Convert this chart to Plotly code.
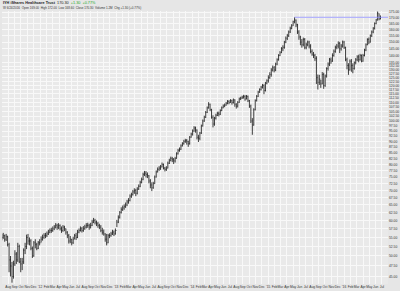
import numpy as np
import pandas as pd
import plotly.graph_objects as go

# ---- weekly data (Jul 2011 .. Jun 2016) ----
close_2011 = [55.0, 55.5, 54.5, 55.2, 53.0, 49.0, 47.5, 45.0, 48.0, 50.5, 49.0, 52.5, 48.5, 48.0,
              48.5, 51.5, 52.5, 55.0, 54.0, 54.0, 52.0, 50.0, 53.5, 53.0, 52.0, 53.5, 53.5]
high_2011 = [56.0, 56.3, 55.8, 56.0, 55.5, 53.5, 50.0, 48.5, 48.8, 51.5, 51.0, 53.5, 53.0, 49.5,
             49.5, 52.0, 53.5, 55.8, 56.0, 55.0, 54.5, 52.5, 54.0, 54.5, 53.5, 54.0, 54.5]
low_2011 = [54.2, 54.6, 53.8, 54.0, 52.5, 46.0, 45.0, 43.6, 44.5, 47.5, 48.0, 48.5, 48.2, 46.0,
            46.5, 48.0, 50.5, 51.8, 53.0, 52.8, 51.5, 49.5, 49.8, 52.0, 51.5, 51.8, 52.8]

close_2012 = [54.5, 55.0, 55.5, 55.5, 56.0, 56.5, 57.0, 57.0, 57.5, 58.0, 58.5, 58.0, 58.5,
              57.5, 57.0, 58.0, 57.5, 56.5, 55.5, 54.0, 54.5, 53.5, 54.5, 55.5, 55.0, 56.5,
              57.0, 57.5, 57.0, 57.5, 58.0, 58.5, 58.5, 58.0, 58.5, 59.5, 60.0, 59.5, 59.0,
              58.5, 58.0, 57.0, 56.5, 56.0, 54.5, 53.5, 55.5, 55.5, 56.0, 56.5, 56.0, 57.0]
high_2012 = [55.3, 55.8, 56.2, 56.3, 56.7, 57.2, 57.6, 57.8, 58.2, 58.6, 59.2, 59.0, 59.2,
             58.8, 58.2, 58.6, 58.4, 57.6, 56.8, 56.0, 55.4, 54.6, 55.2, 56.0, 56.3, 57.2,
             57.6, 58.2, 58.0, 58.3, 58.7, 59.2, 59.3, 59.0, 59.3, 60.2, 60.8, 60.5, 60.0,
             59.6, 59.0, 58.6, 57.8, 57.3, 56.2, 56.0, 56.0, 56.2, 56.6, 57.2, 57.0, 57.6]
low_2012 = [53.6, 54.1, 54.6, 54.8, 55.1, 55.7, 56.2, 56.3, 56.6, 57.1, 57.6, 57.2, 57.4,
            57.0, 56.3, 56.6, 56.8, 55.8, 54.8, 53.3, 53.4, 52.8, 53.2, 54.5, 54.3, 54.8,
            56.2, 56.7, 56.4, 56.6, 57.2, 57.6, 57.8, 57.2, 57.6, 58.3, 59.2, 58.8, 58.3,
            57.8, 57.4, 56.5, 55.8, 55.5, 53.8, 52.8, 53.4, 54.8, 55.2, 55.7, 55.4, 55.8]

close_2013 = [59.5, 61.0, 62.5, 63.5, 64.0, 64.5, 65.0, 66.0, 66.5, 68.0, 68.5, 69.5, 70.0,
              69.0, 70.5, 71.5, 73.0, 74.0, 76.0, 76.5, 76.0, 75.5, 73.5, 72.0, 71.0, 72.5,
              75.0, 77.0, 78.0, 78.5, 79.0, 80.0, 78.5, 78.0, 78.5, 80.5, 81.5, 82.5, 82.0,
              81.5, 82.5, 84.5, 86.0, 86.5, 88.0, 89.0, 90.0, 90.5, 90.0, 89.0, 92.0, 93.5]
high_2013 = [60.2, 61.6, 63.0, 64.2, 64.8, 65.2, 65.8, 66.7, 67.3, 68.6, 69.2, 70.2, 70.8,
             70.6, 71.2, 72.2, 73.6, 74.8, 76.7, 77.4, 77.3, 76.8, 75.8, 74.2, 73.0, 73.2,
             75.6, 77.6, 78.8, 79.3, 79.8, 80.8, 80.4, 79.0, 79.3, 81.2, 82.4, 83.3, 83.2,
             82.7, 83.2, 85.2, 86.7, 87.3, 88.7, 89.7, 90.8, 91.3, 91.2, 90.4, 92.6, 94.2]
low_2013 = [58.0, 59.2, 60.6, 62.2, 63.0, 63.4, 64.0, 64.6, 65.4, 66.2, 67.4, 68.2, 68.8,
            68.0, 68.6, 70.2, 71.2, 72.6, 73.8, 75.4, 74.8, 74.6, 72.6, 70.8, 69.8, 70.6,
            72.4, 74.8, 76.8, 77.4, 77.8, 78.8, 78.0, 77.2, 77.4, 78.4, 80.2, 81.4, 81.0,
            80.2, 80.8, 82.4, 84.2, 85.4, 86.2, 87.8, 88.6, 89.4, 88.6, 87.6, 88.6, 91.8]

close_2014 = [95.0, 96.5, 95.5, 92.0, 91.5, 94.0, 97.5, 100.0, 102.0, 104.5, 107.0, 109.0, 106.0,
              102.0, 98.5, 101.5, 103.0, 104.0, 103.5, 105.5, 107.0, 108.0, 108.5, 109.5, 110.5,
              110.0, 111.0, 110.0, 111.5, 109.0, 108.0, 110.0, 112.0, 112.5, 113.0, 113.5, 112.0,
              113.5, 111.0, 108.0, 100.0, 98.0, 106.0, 111.0, 113.5, 116.0, 117.5, 119.0, 120.0,
              117.0, 121.5, 123.0]
high_2014 = [95.8, 97.4, 97.2, 95.8, 93.2, 94.6, 98.2, 100.8, 102.8, 105.3, 107.8, 110.2, 109.4,
             106.5, 103.0, 102.2, 103.8, 104.9, 105.0, 106.2, 107.8, 108.9, 109.4, 110.3, 111.4,
             111.3, 111.9, 111.6, 112.3, 111.8, 109.6, 110.8, 112.8, 113.3, 113.9, 114.4, 114.2,
             114.3, 114.0, 111.5, 108.8, 101.5, 106.8, 111.8, 114.3, 116.8, 118.3, 119.8, 121.0,
             120.8, 122.3, 123.9]
low_2014 = [92.8, 94.6, 94.2, 91.0, 89.8, 90.6, 93.6, 97.2, 99.6, 101.6, 104.2, 106.6, 105.2,
            101.2, 96.8, 97.6, 100.8, 102.6, 102.4, 103.2, 105.2, 106.8, 107.4, 108.2, 109.0,
            109.0, 109.8, 108.8, 109.4, 107.6, 106.6, 107.2, 109.8, 111.4, 112.0, 112.2, 111.0,
            111.8, 110.2, 107.0, 99.0, 93.2, 97.6, 105.6, 110.6, 113.2, 115.6, 117.0, 118.2,
            114.8, 116.4, 120.8]

close_2015 = [125.0, 127.0, 130.0, 131.5, 130.0, 134.0, 137.0, 140.0, 142.0, 145.0, 146.0, 150.0,
              153.0, 155.0, 158.0, 161.0, 163.0, 166.5, 168.0, 164.0, 158.0, 154.0, 150.0, 148.0,
              152.0, 146.0, 148.0, 150.0, 147.0, 143.0, 141.0, 140.0, 138.0, 125.0, 122.0, 124.0,
              121.0, 127.0, 120.0, 126.0, 131.0, 134.0, 137.0, 136.0, 140.0, 143.0, 146.0, 147.0,
              149.0, 145.0, 147.0, 150.0]
high_2015 = [126.5, 128.5, 131.2, 133.0, 132.6, 135.0, 138.0, 141.0, 143.2, 146.2, 147.6, 151.0,
             154.4, 156.5, 159.2, 162.4, 164.5, 167.5, 170.4, 168.5, 164.8, 159.5, 155.0, 152.4,
             153.5, 153.2, 149.6, 151.2, 151.0, 148.4, 144.5, 142.6, 141.2, 139.5, 127.0, 126.8,
             123.5, 128.6, 128.2, 127.0, 131.8, 135.2, 138.3, 138.6, 141.6, 144.4, 147.3, 148.6,
             150.6, 150.2, 148.5, 151.2]
low_2015 = [121.8, 124.2, 125.6, 129.0, 128.4, 129.2, 133.2, 136.4, 139.6, 141.8, 143.2, 145.0,
            149.2, 151.6, 154.0, 157.2, 160.2, 163.0, 165.2, 162.0, 156.4, 151.8, 147.6, 145.8,
            146.8, 144.6, 144.6, 146.8, 145.2, 141.6, 139.8, 138.2, 136.2, 121.0, 117.6, 120.4,
            118.6, 120.8, 118.0, 119.2, 125.0, 129.6, 132.6, 134.2, 135.6, 139.2, 142.0, 144.6,
            145.2, 141.8, 143.6, 145.8]

close_2016 = [146.0, 137.0, 133.0, 130.0, 136.0, 133.0, 131.0, 135.0, 137.0, 139.0, 137.0, 140.0,
              136.0, 140.0, 144.0, 148.0, 152.0, 150.0, 155.0, 158.0, 161.0, 165.0, 168.0, 174.0,
              169.0, 170.3]
high_2016 = [151.0, 146.5, 138.5, 134.6, 137.2, 137.5, 134.5, 135.8, 138.2, 140.2, 140.6, 141.2,
             140.8, 141.2, 145.0, 149.0, 153.0, 153.6, 156.0, 159.2, 162.0, 166.0, 169.0, 175.5,
             173.8, 172.0]
low_2016 = [144.8, 136.0, 130.4, 126.8, 129.6, 128.8, 127.8, 130.2, 133.8, 136.0, 135.2, 136.4,
            135.2, 135.6, 139.4, 143.2, 147.6, 148.4, 149.6, 154.0, 157.0, 160.0, 164.4, 167.6,
            167.8, 168.6]

first_open = 54.6
y_ticks = [45.0, 47.5, 50.0, 52.5, 55.0, 57.5, 60.0, 62.5, 65.0, 67.5, 70.0, 72.5, 75.0, 77.5,
           80.0, 82.5, 85.0, 87.5, 90.0, 92.5, 95.0, 97.5, 100.0, 102.5, 105.0, 107.5, 110.0,
           112.5, 115.0, 117.5, 120.0, 122.5, 125.0, 127.5, 130.0, 132.5, 135.0, 140.0, 145.0,
           150.0, 155.0, 160.0, 165.0, 170.0, 175.0]
title_name = "IYH iShares Healthcare Trust"

closes = close_2011 + close_2012 + close_2013 + close_2014 + close_2015 + close_2016
highs = high_2011 + high_2012 + high_2013 + high_2014 + high_2015 + high_2016
lows = low_2011 + low_2012 + low_2013 + low_2014 + low_2015 + low_2016
opens = [first_open] + closes[:-1]
dates = pd.date_range("2011-07-01", periods=len(closes), freq="W-FRI")

months = pd.date_range("2011-07-01", "2016-07-01", freq="MS")
month_text = [("'" + d.strftime("%y")) if d.month == 1 else d.strftime("%b") for d in months]

fig = go.Figure()
fig.add_trace(go.Ohlc(
    x=dates, open=opens, high=highs, low=lows, close=closes,
    increasing=dict(line=dict(color="#111111", width=0.8)),
    decreasing=dict(line=dict(color="#111111", width=0.8)),
    tickwidth=0.3, showlegend=False, hoverinfo="skip"))

peak_i = int(np.argmax(high_2015)) + len(close_2011) + len(close_2012) + len(close_2013) + len(close_2014)
peak_v = highs[peak_i]
fig.add_trace(go.Scatter(x=[dates[peak_i], pd.Timestamp("2016-07-30")], y=[peak_v, peak_v],
                         mode="lines", line=dict(color="#8c8cff", width=0.8),
                         showlegend=False, hoverinfo="skip"))

last_c, prev_c = closes[-1], closes[-2]
chg = last_c - prev_c
pct = chg / prev_c * 100
fig.add_annotation(xref="paper", yref="paper", x=-0.003, y=1.030, xanchor="left", yanchor="middle",
                   showarrow=False,
                   text=f"<b>{title_name}</b>  {last_c:.2f}  <span style='color:#1faa1f'>{chg:+.2f}  {pct:+.2f}%</span>",
                   font=dict(size=3.8, color="#222222", family="Liberation Sans"))
fig.add_annotation(xref="paper", yref="paper", x=-0.003, y=1.011, xanchor="left", yanchor="middle",
                   showarrow=False,
                   text=(f"W {dates[-1].strftime('%-m/%-d/%Y')}  Open {opens[-1]:.2f}  High {highs[-1]:.2f}  "
                         f"Low {lows[-1]:.2f}  Close {last_c:.2f}  Volume 1.2M  Chg {chg:+.2f} ({pct:+.2f}%)"),
                   font=dict(size=3.0, color="#333333", family="Liberation Sans"))

fig.update_layout(
    width=400, height=291,
    margin=dict(l=2, r=12, t=11, b=7),
    paper_bgcolor="#e6e6e6", plot_bgcolor="#e9e9e9",
    showlegend=False,
    font=dict(family="Liberation Sans", size=3.3, color="#333333"),
)
fig.update_xaxes(type="date", range=["2011-07-02", "2016-07-30"],
                 tickvals=months, ticktext=month_text, tickangle=0,
                 showgrid=True, gridcolor="#f8f8f8", gridwidth=1,
                 rangeslider=dict(visible=False), ticks="", zeroline=False, showline=False,
                 tickfont=dict(size=3.3, color="#333333"))
fig.update_yaxes(type="log", range=[np.log10(43.3), np.log10(176.0)], side="right",
                 tickvals=y_ticks, ticktext=[f"{v:.2f}" for v in y_ticks],
                 showgrid=True, gridcolor="#f8f8f8", gridwidth=1, ticks="",
                 zeroline=False, showline=False,
                 tickfont=dict(size=3.3, color="#333333"))

fig.write_html("out.html")
